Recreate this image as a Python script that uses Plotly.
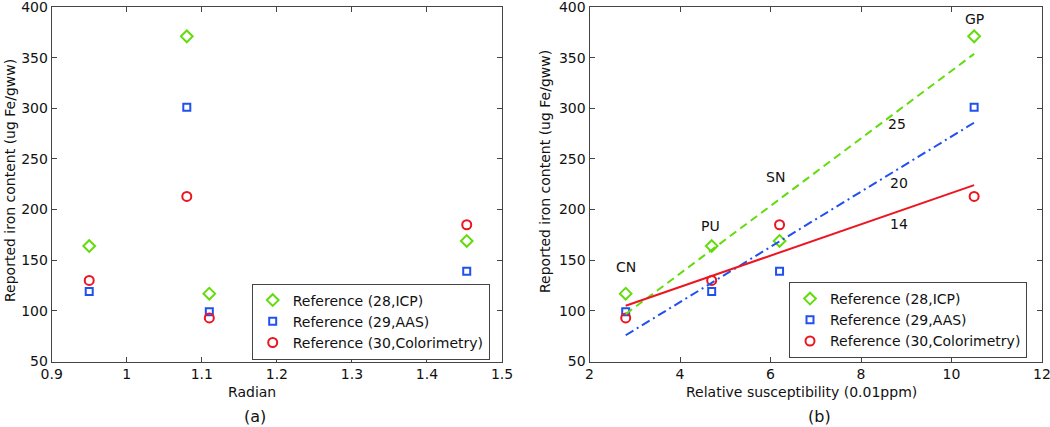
import plotly.graph_objects as go

# ---- data ----
series_names = ["Reference (28,ICP)", "Reference (29,AAS)", "Reference (30,Colorimetry)"]

radian = [0.95, 1.08, 1.11, 1.453]
icp_a = [164, 371, 117, 169]
aas_a = [119, 301, 99, 139]
col_a = [130, 213, 93, 185]

regions = ["CN", "PU", "SN", "GP"]
susc = [2.8, 4.7, 6.2, 10.5]
icp_b = [117, 164, 169, 371]
aas_b = [99, 119, 139, 301]
col_b = [93, 130, 185, 213]

fit_x = [2.8, 10.5]
fit_icp = [96.8, 353.7]
fit_aas = [75.9, 285.8]
fit_col = [105.0, 224.1]
fit_labels = ["25", "20", "14"]
fit_label_pos = [(8.8, 284), (8.85, 226), (8.85, 186)]
region_label_pos = [(2.81, 143), (4.68, 184), (6.1, 232), (10.5, 388)]

# ---- styles ----
GREEN = "#62dc0c"
BLUE = "#2050ee"
RED = "#ec1520"
FONT = "DejaVu Sans, Verdana, sans-serif"
FS = 14
TXT = "#111"

styles = [
    dict(symbol="diamond-open", size=9, color=GREEN, line=dict(width=2, color=GREEN)),
    dict(symbol="square-open", size=7, color=BLUE, line=dict(width=2, color=BLUE)),
    dict(symbol="circle-open", size=9, color=RED, line=dict(width=2, color=RED)),
]

fig = go.Figure()

for name, ys, st in zip(series_names, [icp_a, aas_a, col_a], styles):
    fig.add_trace(go.Scatter(x=radian, y=ys, mode="markers", name=name, marker=st,
                             xaxis="x", yaxis="y", legend="legend"))

for name, ys, st in zip(series_names, [icp_b, aas_b, col_b], styles):
    fig.add_trace(go.Scatter(x=susc, y=ys, mode="markers", name=name, marker=st,
                             xaxis="x2", yaxis="y2", legend="legend2"))

line_styles = [
    (fit_icp, GREEN, "8px,5px"),
    (fit_aas, BLUE, "9px,4px,2px,4px"),
    (fit_col, RED, "solid"),
]
for ys, c, d in line_styles:
    fig.add_trace(go.Scatter(x=fit_x, y=ys, mode="lines", line=dict(color=c, width=2, dash=d),
                             showlegend=False, xaxis="x2", yaxis="y2", hoverinfo="skip"))

W, H = 1050, 427


def ax(domain, rng, dtick, anchor, xaxis=True):
    d = dict(domain=domain, range=rng, dtick=dtick, anchor=anchor,
             showline=True, linecolor="#444", linewidth=1, mirror="ticks",
             ticks="inside", ticklen=5, tickcolor="#444", showgrid=False, zeroline=False,
             tickfont=dict(family=FONT, size=FS, color=TXT), automargin=False,
             ticklabeloverflow="allow")
    if xaxis:
        d["ticklabelstandoff"] = 0
    return d


yd = [1 - 361.5 / H, 1 - 7 / H]
annotations = []
for lab, (x, y) in zip(regions, region_label_pos):
    annotations.append(dict(x=x, y=y, xref="x2", yref="y2", text=lab, showarrow=False,
                            font=dict(family=FONT, size=FS, color=TXT)))
for lab, (x, y) in zip(fit_labels, fit_label_pos):
    annotations.append(dict(x=x, y=y, xref="x2", yref="y2", text=lab, showarrow=False,
                            font=dict(family=FONT, size=FS, color=TXT)))


def pa(text, x, y, angle=0, size=FS):
    return dict(x=x / W, y=1 - y / H, xref="paper", yref="paper", text=text,
                showarrow=False, textangle=angle, xanchor="center", yanchor="middle",
                font=dict(family=FONT, size=size, color=TXT))


annotations += [
    pa("Radian", 252, 391.5),
    pa("Relative susceptibility (0.01ppm)", 801, 391.5),
    pa("Reported iron content (ug Fe/gww)", 10, 181, -90),
    pa("Reported iron content (ug Fe/gww)", 545, 172, -90),
    pa("(a)", 255, 416, size=16),
    pa("(b)", 819, 416, size=16),
]

legend_style = dict(bgcolor="white", bordercolor="#444", borderwidth=1,
                    font=dict(family=FONT, size=FS, color=TXT),
                    xanchor="left", yanchor="top", tracegroupgap=0)

fig.update_layout(
    width=W, height=H,
    margin=dict(l=0, r=0, t=0, b=0),
    template="none",
    paper_bgcolor="white", plot_bgcolor="white",
    xaxis=ax([51.7 / W, 502 / W], [0.9, 1.5], 0.1, "y"),
    yaxis=ax(yd, [50, 400], 50, "x", False),
    xaxis2=ax([589.5 / W, 1042 / W], [2, 12], 2, "y2"),
    yaxis2=ax(yd, [50, 400], 50, "x2", False),
    legend=dict(x=251.7 / W, y=1 - 283.5 / H, **legend_style),
    legend2=dict(x=789 / W, y=1 - 282 / H, **legend_style),
    annotations=annotations,
    showlegend=True,
)

fig.write_html("out.html", config={"displayModeBar": False},
               post_script="document.body.style.margin='0';document.body.style.overflow='hidden';")
